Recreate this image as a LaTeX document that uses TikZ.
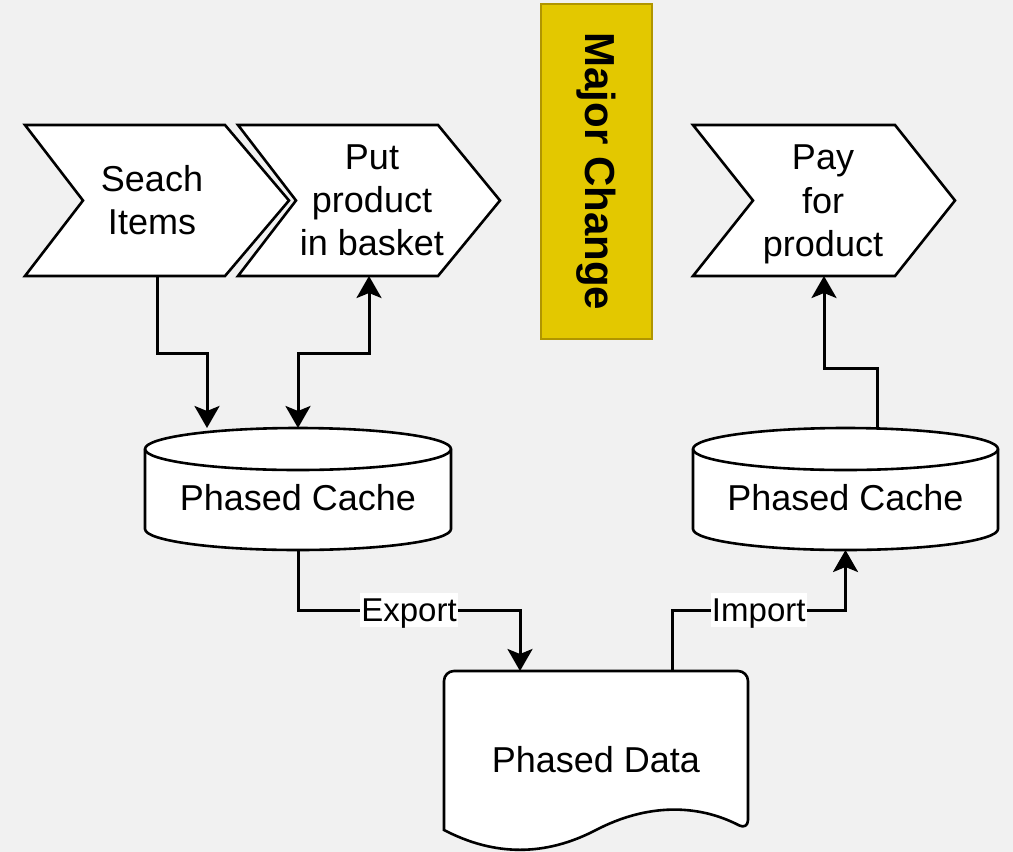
\documentclass[tikz,border=0pt]{standalone}
\usepackage{fontspec}
\setmainfont{Liberation Sans}
\usetikzlibrary{arrows.meta}
\definecolor{bg}{HTML}{F1F1F1}
\definecolor{mcfill}{HTML}{E3C800}
\definecolor{mcline}{HTML}{B09500}
\begin{document}
\begin{tikzpicture}[x=0.5pt,y=-0.5pt,
  frame/.style={inner sep=0pt, outer sep=0pt},
  shapeline/.style={draw=black, fill=white, line width=1.3pt, line join=miter},
  txt/.style={align=center, font=\fontsize{18}{21.6}\selectfont, inner sep=0pt},
  conn/.style={line width=1.5pt},
  >={Stealth[length=11pt,width=12.5pt,inset=2.5pt]},
  lbl/.style={fill=white, inner xsep=0.5pt, inner ysep=3pt, text depth=0pt, font=\fontsize{16.5}{19.8}\selectfont}]

\fill[bg] (0,0) rectangle (1013,852);
\useasboundingbox (0,0) rectangle (1013,852);

% chevrons
\node[frame, minimum width=132pt, minimum height=75.5pt] (si) at (157,200.5) {};
\draw[shapeline] (si.north west) -- ([xshift=-32pt]si.north east) -- (si.east) -- ([xshift=-32pt]si.south east) -- (si.south west) -- ([xshift=29pt]si.west) -- cycle;
\node[txt] (si-t) at (152,200) {Seach\\Items};

\node[frame, minimum width=131pt, minimum height=75.5pt] (pb) at (369,200.5) {};
\draw[shapeline] (pb.north west) -- ([xshift=-31pt]pb.north east) -- (pb.east) -- ([xshift=-31pt]pb.south east) -- (pb.south west) -- ([xshift=29pt]pb.west) -- cycle;
\node[txt] (pb-t) at (372,200) {Put\\product\\in basket};

\node[frame, minimum width=131pt, minimum height=75.5pt] (pay) at (824,200.5) {};
\draw[shapeline] (pay.north west) -- ([xshift=-30pt]pay.north east) -- (pay.east) -- ([xshift=-30pt]pay.south east) -- (pay.south west) -- ([xshift=30pt]pay.west) -- cycle;
\node[txt] (pay-t) at (823,204.5) {Pay\\for\\product};

% major change
\node[frame, draw=mcline, fill=mcfill, line width=1.3pt, minimum width=167.5pt, minimum height=55.5pt, rotate=-90, font=\bfseries\fontsize{21}{25}\selectfont] (mc) at (596.5,171.5) {Major Change};

% cylinders
\node[frame, minimum width=153pt, minimum height=61pt] (c1) at (298,489) {};
\draw[shapeline] (145,449) -- (145,529) arc[start angle=180, end angle=0, x radius=153, y radius=21] -- (451,449) arc[start angle=0, end angle=-180, x radius=153, y radius=21] -- cycle;
\draw[shapeline, fill=none] (145,449) arc[start angle=180, end angle=0, x radius=153, y radius=21];
\node[txt] (c1-t) at (298,498) {Phased Cache};

\node[frame, minimum width=152.5pt, minimum height=61pt] (c2) at (845.5,489) {};
\draw[shapeline] (693,449) -- (693,529) arc[start angle=180, end angle=0, x radius=152.5, y radius=21] -- (998,449) arc[start angle=0, end angle=-180, x radius=152.5, y radius=21] -- cycle;
\draw[shapeline, fill=none] (693,449) arc[start angle=180, end angle=0, x radius=152.5, y radius=21];
\node[txt] (c2-t) at (845.5,498) {Phased Cache};

% document
\node[frame, minimum width=152pt, minimum height=90.5pt] (data) at (596,761.5) {};
\draw[shapeline] (596,830) .. controls (545.3,856.4) and (494.7,856.4) .. (444,830) [rounded corners=5pt] -- (444,671) -- (748,671) -- (748,830) [sharp corners] .. controls (697.3,803.6) and (646.7,803.6) .. (596,830) -- cycle;
\node[txt] (data-t) at (596,760) {Phased Data};

% helper coordinates
\coordinate (c1in) at ([xshift=-45.5pt]c1.north);
\coordinate (c2out) at ([xshift=15.75pt]c2.north);
\coordinate (din) at ([xshift=-38pt]data.north);
\coordinate (dout) at ([xshift=38pt]data.north);

% connectors
\draw[conn,->] (si.south) -- (si.south |- 0,353) -| (c1in);
\draw[conn,<->] (c1.north) -- (c1.north |- 0,353) -| (pb.south);
\draw[conn,->] (c2out) -- (c2out |- 0,368) -| (pay.south);
\draw[conn,->] (c1.south) -- (c1.south |- 0,610) -| node[lbl,pos=0.25] (exp) {Export} (din);
\draw[conn,->] (dout) -- (dout |- 0,610) -| node[lbl,pos=0.25] (imp) {Import} (c2.south);
\end{tikzpicture}
\end{document}
